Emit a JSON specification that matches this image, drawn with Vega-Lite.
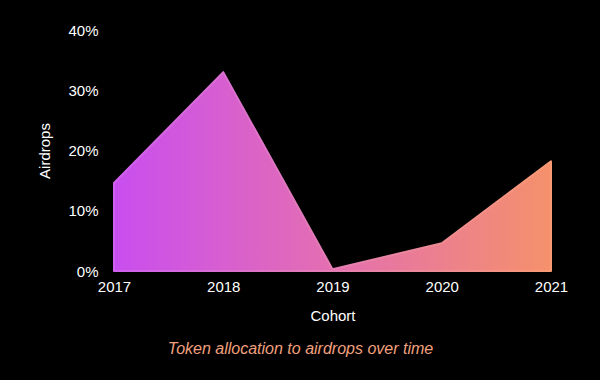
{
  "$schema": "https://vega.github.io/schema/vega-lite/v6.json",
  "autosize": "none",
  "width": 437,
  "height": 241,
  "padding": {"left": 114, "top": 30, "right": 49, "bottom": 109},
  "background": "#000000",
  "config": {
    "view": {"stroke": null},
    "font": "Liberation Sans",
    "axis": {"labelColor": "#ffffff", "titleColor": "#ffffff", "grid": false, "domain": false, "ticks": false, "labelFont": "Liberation Sans", "titleFont": "Liberation Sans", "titleFontWeight": "normal"}
  },
  "title": {
    "text": "Token allocation to airdrops over time",
    "orient": "bottom",
    "anchor": "middle",
    "dx": -32,
    "offset": 18,
    "color": "#f2a07c",
    "fontSize": 16,
    "fontStyle": "italic",
    "fontWeight": "normal",
    "font": "Liberation Sans"
  },
  "data": {
    "values": [
      {"Cohort": "2017", "Airdrops": 0.146},
      {"Cohort": "2018", "Airdrops": 0.33},
      {"Cohort": "2019", "Airdrops": 0.003},
      {"Cohort": "2020", "Airdrops": 0.046},
      {"Cohort": "2021", "Airdrops": 0.182}
    ]
  },
  "mark": {
    "type": "area",
    "line": false,
    "strokeJoin": "round",
    "strokeWidth": 2,
    "stroke": {"gradient": "linear", "x1": 0, "x2": 1, "y1": 0, "y2": 0, "stops": [{"offset": 0, "color": "#d060f0"}, {"offset": 1, "color": "#f89a74"}]},
    "color": {"gradient": "linear", "x1": 0, "x2": 1, "y1": 0, "y2": 0, "stops": [{"offset": 0, "color": "#c94ef0"}, {"offset": 0.5, "color": "#e46fb0"}, {"offset": 1, "color": "#f5916b"}]}
  },
  "encoding": {
    "x": {
      "field": "Cohort", "type": "ordinal",
      "scale": {"type": "point", "padding": 0},
      "axis": {"labelAngle": 0, "labelFontSize": 15, "labelPadding": 8, "titleFontSize": 15, "titlePadding": 14, "title": "Cohort"}
    },
    "y": {
      "field": "Airdrops", "type": "quantitative",
      "scale": {"domain": [0, 0.4]},
      "axis": {"values": [0, 0.1, 0.2, 0.3, 0.4], "format": ".0%", "labelFontSize": 15, "labelPadding": 16, "titleFontSize": 15, "titlePadding": 15, "title": "Airdrops"}
    }
  }
}
